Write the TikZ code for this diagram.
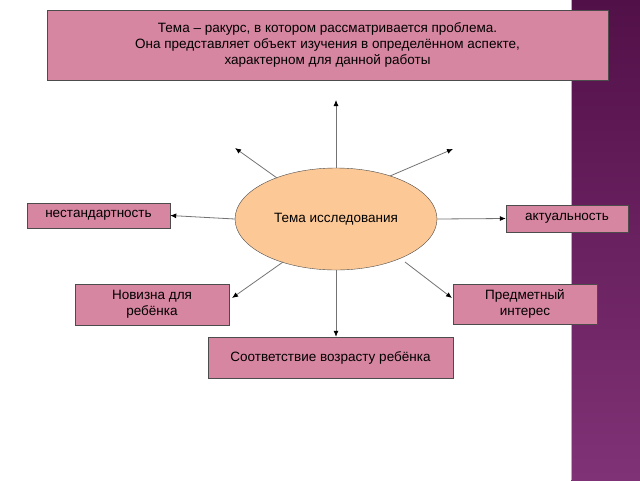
\documentclass[tikz,border=0pt]{standalone}
\usepackage{fontspec}
\setmainfont{Liberation Sans}
\usetikzlibrary{arrows.meta,shapes.geometric}
\definecolor{boxpink}{RGB}{214,134,160}
\definecolor{ellfill}{RGB}{252,200,150}
\definecolor{purpA}{RGB}{82,16,72}
\definecolor{purpB}{RGB}{128,50,118}
\begin{document}
\begin{tikzpicture}[x=1pt,y=-1pt,
  pbox/.style={draw=black!70,fill=boxpink,inner sep=0pt,align=center,font=\fontsize{13.5}{16}\selectfont},
  arr/.style={draw=black!55,line width=0.8pt,-{Latex[length=6pt,width=5pt,color=black]}}]
\useasboundingbox (0,0) rectangle (640,480);
\fill[white] (0,0) rectangle (640,480);
\shade[top color=purpA,bottom color=purpB] (571,0) rectangle (640,480);
\draw[black!30] (571,0) -- (571,480);
\node[pbox,minimum width=561pt,minimum height=70pt] (top) at (327.5,45) {Тема – ракурс, в котором рассматривается проблема.\\Она представляет объект изучения в определённом аспекте,\\характерном для данной работы};
\node[draw=black!70,fill=ellfill,ellipse,minimum width=202pt,minimum height=102pt,inner sep=0pt,font=\fontsize{13.5}{16}\selectfont] (c) at (336,219) {Тема исследования};
\node[pbox,minimum width=143pt,minimum height=25pt] (ns) at (98.5,215.5) {нестандартность};
\node[pbox,minimum width=122pt,minimum height=27pt] (ak) at (567,218.5) {актуальность};
\node[pbox,minimum width=154pt,minimum height=41pt] (nv) at (152,304.5) {Новизна для\\ребёнка};
\node[pbox,minimum width=144pt,minimum height=40pt] (pr) at (525,304) {Предметный\\интерес};
\node[pbox,minimum width=245pt,minimum height=41pt] (so) at (330.5,357.5) {Соответствие возрасту ребёнка};
\coordinate (u) at (336,100);
\coordinate (ul) at (235,148);
\coordinate (ur) at (453,149);
\coordinate (sul) at (277,178);
\coordinate (sur) at (390,176);
\coordinate (sdl) at (283,262);
\coordinate (sdr) at (405,262);
\coordinate (edl) at (232,298);
\coordinate (edr) at (452,298);
\draw[arr] (c.north) -- (u);
\draw[arr] (sul) -- (ul);
\draw[arr] (sur) -- (ur);
\draw[arr] (c.west) -- (ns.east);
\draw[arr] (c.east) -- (ak.west);
\draw[arr] (sdl) -- (edl);
\draw[arr] (sdr) -- (edr);
\draw[arr] (c.south) -- (so.north -| c.south);
\end{tikzpicture}
\end{document}
